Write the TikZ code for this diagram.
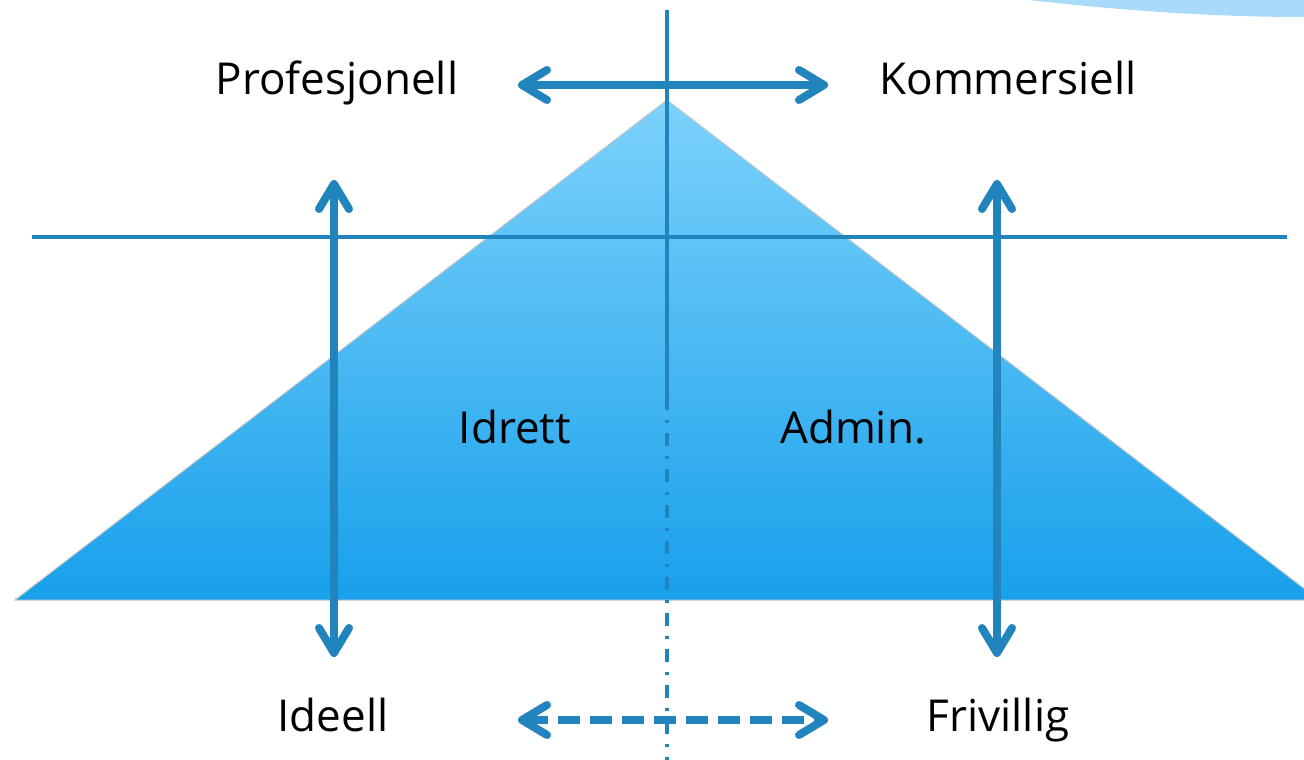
\documentclass[tikz,border=0pt]{standalone}
\usepackage{fontspec}
\setmainfont{Open Sans}
\usetikzlibrary{arrows.meta}
\definecolor{arrowblue}{RGB}{33,132,188}
\definecolor{tritop}{RGB}{124,210,251}
\definecolor{tribot}{RGB}{24,160,235}
\definecolor{blob}{RGB}{168,218,250}
\tikzset{
  lbl/.style={font=\fontsize{44}{52}\selectfont, text=black, inner sep=0pt, anchor=base},
  bigarrow/.style={arrowblue, line width=8pt, {Straight Barb[length=25pt,width=30pt,line cap=round,line join=round]}-{Straight Barb[length=25pt,width=30pt,line cap=round,line join=round]}},
  axisline/.style={arrowblue, line width=3.5pt},
}
\begin{document}
\begin{tikzpicture}[x=1pt,y=-1pt]
\useasboundingbox (0,0) rectangle (1304,760);
\clip (0,0) rectangle (1304,760);
% blob top right
\fill[blob] (1020,-1) .. controls (1150,14) and (1240,17) .. (1305,17) -- (1305,-1) -- cycle;
% triangle
\coordinate (apex) at (667,100);
\coordinate (bl) at (15,600);
\coordinate (br) at (1319,600);
\draw[gray!35, line width=1.5pt] ([yshift=1.5pt]bl) -- ([yshift=1.5pt]br);
\shade[top color=tritop, bottom color=tribot, draw=gray!45, line width=1pt] (apex) -- (bl) -- (br) -- cycle;
% axes
\coordinate (vtop) at (667,10);
\coordinate (vmid) at (667,400);
\coordinate (vbot) at (667,760);
\coordinate (hl) at (32,237);
\coordinate (hr) at (1287,237);
\draw[axisline] (vtop) -- (vmid);
\draw[arrowblue, line width=3.5pt, dash pattern=on 13pt off 10pt on 3pt off 10pt] ([yshift=3pt]vmid) -- (vbot);
\draw[axisline] (hl) -- (hr);
% labels
\node[lbl] (prof) at (337,95) {Profesjonell};
\node[lbl] (komm) at (1008,95) {Kommersiell};
\node[lbl] (idr) at (515,443) {Idrett};
\node[lbl] (adm) at (853,443) {Admin.};
\node[lbl] (ide) at (333,731) {Ideell};
\node[lbl] (fri) at (998,731) {Frivillig};
% arrows
\coordinate (ta) at (518,85);
\coordinate (tb) at (828,85);
\coordinate (ba) at (518,720);
\coordinate (bb) at (828,720);
\coordinate (la) at (334,180);
\coordinate (lb) at (334,657);
\coordinate (ra) at (997,180);
\coordinate (rb) at (997,657);
\draw[bigarrow] (ta) -- (tb);
\draw[bigarrow, dash pattern=on 22pt off 10pt] (ba) -- (bb);
\draw[bigarrow] (la) -- (lb);
\draw[bigarrow] (ra) -- (rb);
\end{tikzpicture}
\end{document}
